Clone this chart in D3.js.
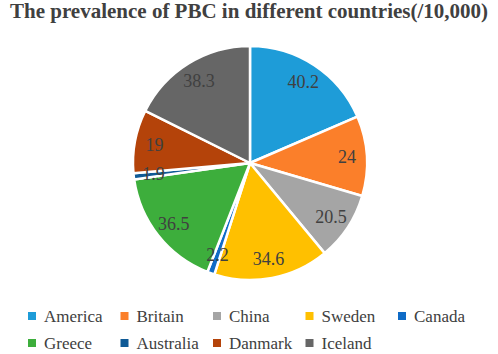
<!DOCTYPE html>
<html>
<head>
    <meta charset="utf-8">
    <script src="https://d3js.org/d3.v7.min.js"></script>
    <style>
        body { margin: 0; background: #fff; }
        svg { display: block; }
        svg text { font-family: "Liberation Serif", "Times New Roman", serif; }
    </style>
</head>
<body>
    <div id="chart"></div>
    <script>
        const countries = ["America", "Britain", "China", "Sweden", "Canada", "Greece", "Australia", "Danmark", "Iceland"];
        const prevalence = [40.2, 24, 20.5, 34.6, 2.2, 36.5, 1.9, 19, 38.3];
        const sliceColors = ["#1e9cd8", "#fb7f2a", "#a5a5a5", "#ffc000", "#0f6bc6", "#3dae3c", "#0f5a96", "#b4430a", "#666666"];

        const width = 498, height = 354;
        const cx = 250, cy = 163, radius = 117;

        const data = countries.map((c, i) => ({ name: c, value: prevalence[i] }));

        const color = d3.scaleOrdinal().domain(countries).range(sliceColors);

        const svg = d3.select("#chart").append("svg")
            .attr("width", width)
            .attr("height", height);

        svg.append("text")
            .attr("x", width / 2)
            .attr("y", 18)
            .attr("text-anchor", "middle")
            .attr("font-weight", "bold")
            .attr("font-size", 21)
            .attr("fill", "#404040")
            .text("The prevalence of PBC in different countries(/10,000)");

        const pie = d3.pie().sort(null).value(d => d.value);
        const arc = d3.arc().innerRadius(0).outerRadius(radius);
        const labelArc = d3.arc().innerRadius(radius * 0.83).outerRadius(radius * 0.83);

        const g = svg.append("g").attr("transform", `translate(${cx},${cy})`);
        const arcs = pie(data);

        g.selectAll("path")
            .data(arcs)
            .join("path")
            .attr("d", arc)
            .attr("fill", d => color(d.data.name))
            .attr("stroke", "#fff")
            .attr("stroke-width", 2.5)
            .attr("stroke-linejoin", "round");

        g.selectAll("text")
            .data(arcs)
            .join("text")
            .attr("transform", d => `translate(${labelArc.centroid(d)})`)
            .attr("text-anchor", "middle")
            .attr("dy", "0.35em")
            .attr("font-size", 18)
            .attr("fill", "#404040")
            .text(d => d.data.value);

        // legend: 5 per row
        const legend = svg.append("g")
            .attr("font-size", 17)
            .attr("fill", "#404040");

        const items = legend.selectAll("g")
            .data(data)
            .join("g")
            .attr("transform", (d, i) => `translate(${28 + (i % 5) * 92.5},${316 + Math.floor(i / 5) * 27})`);

        items.append("rect")
            .attr("x", 0)
            .attr("y", -4)
            .attr("width", 8)
            .attr("height", 8)
            .attr("fill", d => color(d.name));

        items.append("text")
            .attr("x", 16)
            .attr("dy", "0.35em")
            .text(d => d.name);
    </script>
</body>
</html>
